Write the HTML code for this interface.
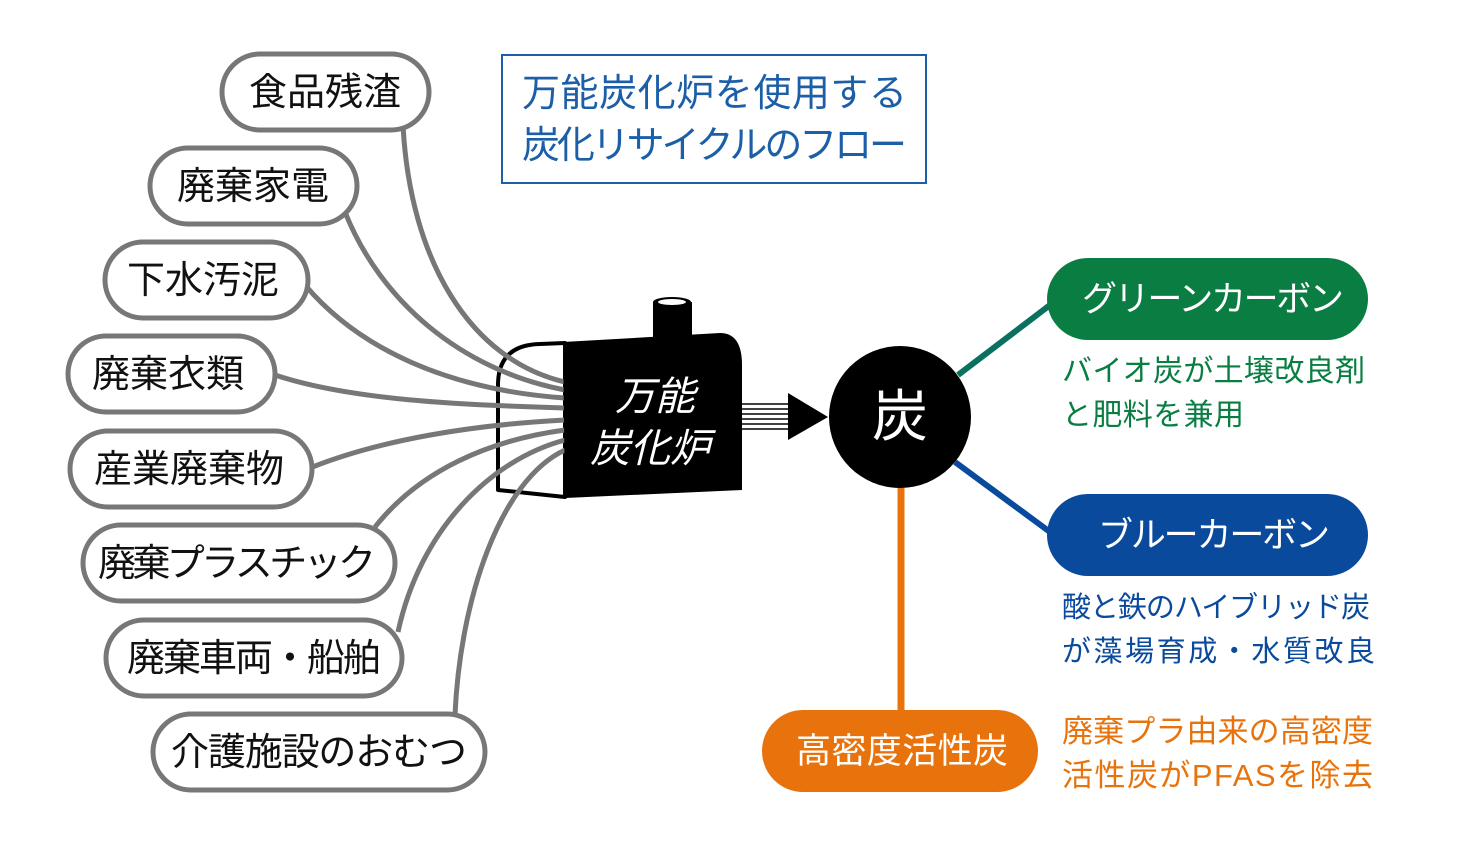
<!DOCTYPE html>
<html><head><meta charset="utf-8"><style>
body{margin:0;width:1466px;height:850px;background:#fff;overflow:hidden;font-family:"Liberation Sans","Noto Sans CJK JP",sans-serif;}
.a{position:absolute;}
</style></head><body>
<svg class="a" style="left:0;top:0" width="1466" height="850" font-family="Liberation Sans, Noto Sans CJK JP, sans-serif">
<path d="M498,490 L498,385 Q498,345 540,344 L565,343 L565,497 Z" fill="#fff" stroke="#000" stroke-width="4" stroke-linejoin="round"/>
<g fill="none" stroke="#777" stroke-width="5">
<path d="M403,125 C410,260 470,360 565,382"/>
<path d="M345,212 C380,300 460,370 565,390"/>
<path d="M305,285 C360,350 450,390 565,398"/>
<path d="M275,375 C350,400 460,405 565,408"/>
<path d="M310,468 C380,440 470,425 565,420"/>
<path d="M375,527 C420,470 490,440 565,430"/>
<path d="M398,632 C420,530 490,460 565,440"/>
<path d="M455,715 C460,600 500,480 565,450"/>
</g>
<g fill="#fff" stroke="#777" stroke-width="5">
<rect x="222" y="54" width="207" height="76" rx="38"/>
<rect x="150" y="148" width="207" height="76" rx="38"/>
<rect x="105" y="242" width="203" height="76" rx="38"/>
<rect x="68" y="336" width="207" height="76" rx="38"/>
<rect x="70" y="431" width="242" height="76" rx="38"/>
<rect x="83" y="525" width="312" height="76" rx="38"/>
<rect x="106" y="620" width="296" height="76" rx="38"/>
<rect x="153" y="714" width="332" height="76" rx="38"/>
</g>
<g font-size="38" fill="#111" text-anchor="middle">
<text x="325" y="105">食品残渣</text>
<text x="253" y="199">廃棄家電</text>
<text x="203" y="293">下水汚泥</text>
<text x="168" y="387">廃棄衣類</text>
<text x="189" y="482">産業廃棄物</text>
<text x="237" y="576" textLength="278">廃棄プラスチック</text>
<text x="254" y="671" textLength="254">廃棄車両・船舶</text>
<text x="319" y="765" textLength="296">介護施設のおむつ</text>
</g>
<rect x="502" y="55" width="424" height="128" fill="none" stroke="#1c5fa8" stroke-width="2"/>
<text x="522" y="106" font-size="38" fill="#1c5fa8" textLength="385">万能炭化炉を使用する</text>
<text x="522" y="158" font-size="38" fill="#1c5fa8" textLength="385">炭化リサイクルのフロー</text>
<path d="M563,342 L720,333 Q742,333 742,365 L742,490 L565,498 Z" fill="#000"/>
<rect x="653" y="302" width="39" height="38" fill="#000"/>
<ellipse cx="672" cy="302" rx="19" ry="5" fill="#000"/>
<ellipse cx="672" cy="302" rx="14" ry="3" fill="#fff"/>
<text x="655" y="410" font-size="40" fill="#fff" text-anchor="middle" font-style="italic">万能</text>
<text x="650" y="462" font-size="40" fill="#fff" text-anchor="middle" font-style="italic">炭化炉</text>
<g stroke="#000" stroke-width="1.5">
<line x1="742" y1="404" x2="790" y2="404"/><line x1="742" y1="409" x2="790" y2="409"/><line x1="742" y1="414" x2="790" y2="414"/><line x1="742" y1="419" x2="790" y2="419"/><line x1="742" y1="424" x2="790" y2="424"/><line x1="742" y1="429" x2="790" y2="429"/>
</g>
<polygon points="788,393 828,417 788,440" fill="#000"/>
<line x1="958" y1="375" x2="1050" y2="305" stroke="#0a7060" stroke-width="6"/>
<line x1="955" y1="462" x2="1050" y2="532" stroke="#0a4a9c" stroke-width="6"/>
<line x1="901" y1="480" x2="901" y2="715" stroke="#e8730c" stroke-width="7"/>
<circle cx="900" cy="417" r="71" fill="#000"/>
<text x="900" y="436" font-size="56" fill="#fff" text-anchor="middle">炭</text>
<rect x="1047" y="258" width="321" height="82" rx="41" fill="#0a7d43"/>
<text x="1082" y="311" font-size="35" fill="#fff" textLength="262">グリーンカーボン</text>
<text x="1062" y="381" font-size="30" fill="#0a7d43" textLength="303">バイオ炭が土壌改良剤</text>
<text x="1062" y="425" font-size="30" fill="#0a7d43" textLength="182">と肥料を兼用</text>
<rect x="1047" y="494" width="321" height="82" rx="41" fill="#0a4a9c"/>
<text x="1098" y="547" font-size="35" fill="#fff" textLength="232">ブルーカーボン</text>
<text x="1062" y="617" font-size="29" fill="#0a4a9c" textLength="308">酸と鉄のハイブリッド炭</text>
<text x="1062" y="661" font-size="29" fill="#0a4a9c" textLength="313">が藻場育成・水質改良</text>
<rect x="762" y="710" width="276" height="82" rx="41" fill="#e8730c"/>
<text x="796" y="763" font-size="35" fill="#fff" textLength="212">高密度活性炭</text>
<text x="1062" y="742" font-size="31" fill="#e8730c" textLength="311">廃棄プラ由来の高密度</text>
<text x="1062" y="786" font-size="31" fill="#e8730c" textLength="311">活性炭がPFASを除去</text>
</svg>
</body></html>
